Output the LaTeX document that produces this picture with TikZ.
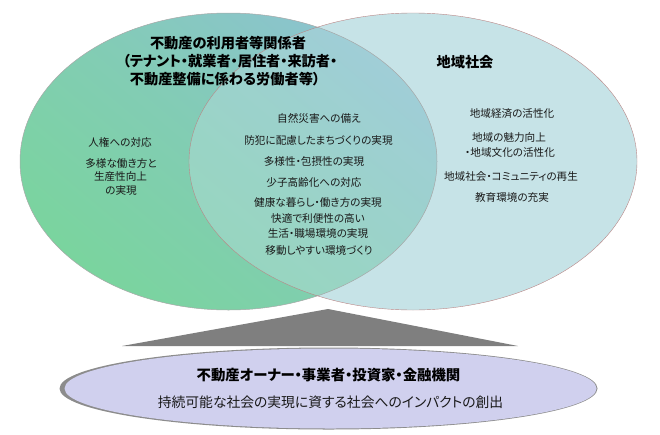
\documentclass[tikz,border=0pt]{standalone}
\usepackage{fontspec}
\setmainfont{Noto Sans CJK JP}[RawFeature=+palt]
\begin{document}
\begin{tikzpicture}[x=1pt,y=-1pt,
  item/.style={font=\fontsize{10.6pt}{12pt}\selectfont, text=black!90, inner sep=0pt, anchor=center},
  ttl/.style={font=\fontsize{14.2pt}{16pt}\selectfont\bfseries, text=black, inner sep=0pt, anchor=center},
  btm/.style={font=\fontsize{13.8pt}{15pt}\selectfont, text=black!90, inner sep=0pt, anchor=center},
  btmb/.style={font=\fontsize{14.4pt}{16pt}\selectfont\bfseries, text=black, inner sep=0pt, anchor=center}]
\definecolor{rightfill}{HTML}{C6E3E7}
\definecolor{leftgreen}{HTML}{7AD49E}
\definecolor{leftblue}{HTML}{8CC3CF}
\definecolor{lav}{HTML}{D0D0EE}
\definecolor{tri}{HTML}{7F7F7F}
\definecolor{edge}{HTML}{A8A8A8}
\useasboundingbox (0,0) rectangle (660,434);
% gray triangle
\coordinate (apex) at (328,309);
\coordinate (bl) at (122,346);
\coordinate (br) at (518,346);
\fill[tri] (apex) -- (br) -- (bl) -- cycle;
% right ellipse
\fill[rightfill] (413,161.5) ellipse [x radius=224, y radius=148.5];
% left ellipse shaded
\shade[top color=leftblue, bottom color=leftgreen, shading angle=-40, middle color=leftblue!45!leftgreen]
  (228.5,161.5) ellipse [x radius=208.5, y radius=148.5];
\begin{scope}
  \clip (228.5,161.5) ellipse [x radius=208.5, y radius=148.5];
  \fill[rightfill, opacity=0.35] (413,161.5) ellipse [x radius=224, y radius=148.5];
\end{scope}
\draw[edge, line width=0.5pt] (228.5,161.5) ellipse [x radius=208.5, y radius=148.5];
\draw[edge!80!red, line width=0.4pt] (413,161.5) ellipse [x radius=224, y radius=148.5];
% bottom ellipse
\fill[black!45] (328.5,388.5) ellipse [x radius=269, y radius=41];
\fill[lav] (330.5,388.5) ellipse [x radius=266, y radius=40];
% left title
\node[ttl] (t1) at (228,43) {不動産の利用者等関係者};
\node[ttl] (t2) at (230,61) {（テナント・就業者・居住者・来訪者・};
\node[ttl] (t3) at (225,79) {不動産整備に係わる労働者等）};
\node[ttl] (t4) at (465,62) {地域社会};
% left items
\node[item] (l1) at (120,142) {人権への対応};
\node[item] (l2) at (121,163) {多様な働き方と};
\node[item] (l3) at (120.5,176) {生産性向上};
\node[item] (l4) at (121,190) {の実現};
% center items
\node[item] (c1) at (319,118) {自然災害への備え};
\node[item] (c2) at (318.5,140) {防犯に配慮したまちづくりの実現};
\node[item] (c3) at (314,161) {多様性・包摂性の実現};
\node[item] (c4) at (314,182) {少子高齢化への対応};
\node[item] (c5) at (318,202) {健康な暮らし・働き方の実現};
\node[item] (c6) at (318,218) {快適で利便性の高い};
\node[item] (c7) at (318,233) {生活・職場環境の実現};
\node[item] (c8) at (319,250) {移動しやすい環境づくり};
% right items
\node[item] (r1) at (512,114) {地域経済の活性化};
\node[item] (r2) at (509,137) {地域の魅力向上};
\node[item] (r3) at (510,152) {・地域文化の活性化};
\node[item] (r4) at (511,176) {地域社会・コミュニティの再生};
\node[item] (r5) at (512,197) {教育環境の充実};
% bottom
\node[btmb] (b1) at (328.5,375) {不動産オーナー・事業者・投資家・金融機関};
\node[btm] (b2) at (330.5,402) {持続可能な社会の実現に資する社会へのインパクトの創出};
\end{tikzpicture}
\end{document}
